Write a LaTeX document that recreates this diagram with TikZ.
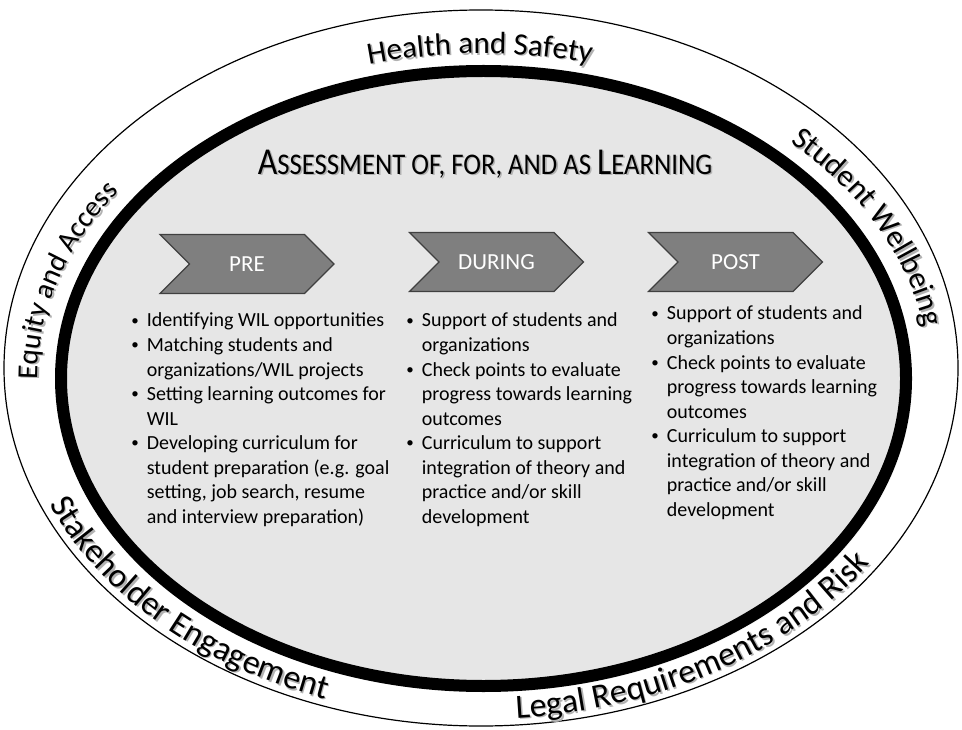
\documentclass[tikz,border=0pt]{standalone}
\usepackage{fontspec}
\setmainfont{Carlito}
\usetikzlibrary{decorations.text, shadows.blur, shapes.symbols, positioning}

\definecolor{fieldgray}{HTML}{E6E6E6}
\definecolor{stagegray}{HTML}{7F7F7F}

\newcommand\topfont{\fontsize{15.5}{18}\selectfont}
\newcommand\sidefont{\fontsize{14.5}{17}\selectfont}
\newcommand\lowfont{\fontsize{17}{20}\selectfont}
\newcommand\headbig{\fontsize{19}{22}\selectfont}
\newcommand\headsmall{\fontsize{15}{18}\selectfont}
\newcommand\headline{\scalebox{0.89}[1]{{\headbig A}{\headsmall SSESSMENT OF, FOR, AND AS }{\headbig L}{\headsmall EARNING}}}
\newcommand\itemdot{\raisebox{0.2ex}{\scalebox{0.75}{\textbullet}}}

% text set along the ring, with a soft grey copy underneath
% #1 centre, #2/#3 start and end angle, #4/#5 radii, #6 font, #7 text
\newcommand\ringlabel[7]{%
  \foreach \shade/\off in {black!30/1.6, black/0}{
    \path[decorate, decoration={text along path, text align=center,
          text color=\shade, text={|#6|#7}}]
      ([shift={(\off,-\off)}]#1) ++(#2:#4 and #5)
      arc[start angle=#2, end angle=#3, x radius=#4, y radius=#5];
  }}

\begin{document}
\begin{tikzpicture}[x=0.5pt, y=0.5pt,
    stage/.style={signal, signal to=east, signal from=west, draw=black!75,
                  fill=stagegray, line width=0.6pt, text=white,
                  minimum width=87pt, minimum height=29.5pt, inner sep=0pt,
                  font=\fontsize{11.5}{13}\selectfont},
    points/.style={anchor=base west, inner sep=0pt,
                   font=\fontsize{10}{12.25}\selectfont}]
  \useasboundingbox (0,0) rectangle (962,729);

  % rings
  \draw[line width=0.6pt] (481,361) ellipse [x radius=477, y radius=358];
  \draw[line width=6pt, fill=fieldgray,
        blur shadow={shadow xshift=1.2pt, shadow yshift=-1.2pt, shadow opacity=40}]
    (483.5,350.5) ellipse [x radius=422.5, y radius=307.5];

  % labels round the ring
  \coordinate (upper) at (483.5,350.5);
  \coordinate (lower) at (481,360);
  \ringlabel{upper}{121}{60}{446}{325}{\topfont}{Health and Safety}
  \ringlabel{upper}{50.8}{3.9}{446}{325}{\topfont}{Student Wellbeing}
  \ringlabel{upper}{187.5}{138.5}{446}{325}{\sidefont}{Equity and Access}
  \ringlabel{lower}{193.8}{257.6}{468}{350}{\lowfont}{Stakeholder Engagement}
  \ringlabel{lower}{270}{331.5}{468}{350}{\lowfont}{Legal Requirements and Risk}

  % heading
  \node[text=black!30] at (486.6,563.4) {\headline};
  \node (title) at (485,565) {\headline};

  % the three stages
  \node[stage] (pre) at (247,465) {PRE};
  \node[stage] (during) at (496.5,467) {DURING};
  \node[stage] (post) at (735.5,467) {POST};

  \node[points] (prelist) at (131,402) {\begin{tabular}[t]{@{}l@{\hspace{4pt}}l@{}}
    \itemdot & Identifying WIL opportunities\\
    \itemdot & Matching students and\\
             & organizations/WIL projects\\
    \itemdot & Setting learning outcomes for\\
             & WIL\\
    \itemdot & Developing curriculum for\\
             & student preparation (e.g. goal\\
             & setting, job search, resume\\
             & and interview preparation)
  \end{tabular}};
  \node[points] (duringlist) at (406,402) {\begin{tabular}[t]{@{}l@{\hspace{4pt}}l@{}}
    \itemdot & Support of students and\\
             & organizations\\
    \itemdot & Check points to evaluate\\
             & progress towards learning\\
             & outcomes\\
    \itemdot & Curriculum to support\\
             & integration of theory and\\
             & practice and/or skill\\
             & development
  \end{tabular}};
  \node[points] (postlist) at (651,409) {\begin{tabular}[t]{@{}l@{\hspace{4pt}}l@{}}
    \itemdot & Support of students and\\
             & organizations\\
    \itemdot & Check points to evaluate\\
             & progress towards learning\\
             & outcomes\\
    \itemdot & Curriculum to support\\
             & integration of theory and\\
             & practice and/or skill\\
             & development
  \end{tabular}};
\end{tikzpicture}
\end{document}
